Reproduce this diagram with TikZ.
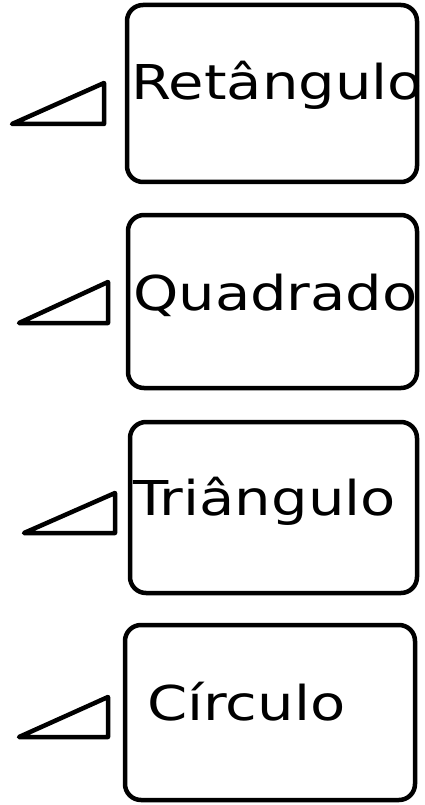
\documentclass[tikz,border=0pt]{standalone}
\usepackage{fontspec}
\newfontfamily\boxfont[FakeStretch=1.2]{DejaVu Sans}
\usetikzlibrary{positioning}

\begin{document}
\begin{tikzpicture}[
    x=1pt, y=-1pt,
    shapebox/.style={draw, line width=4.5pt, rounded corners=16pt, inner sep=0pt},
    boxtext/.style={font=\boxfont\fontsize{48}{48}\selectfont, anchor=base west, inner sep=0pt},
    wedge/.style={draw, line width=4.5pt, line join=round, line cap=round}
]
\useasboundingbox (0,0) rectangle (424,805);

\node[shapebox, minimum width=290pt, minimum height=177pt] (ret) at (272,93.5) {};
\node[shapebox, minimum width=289pt, minimum height=173pt] (quad) at (272.5,301.5) {};
\node[shapebox, minimum width=287pt, minimum height=171pt] (tri) at (273.5,507.5) {};
\node[shapebox, minimum width=290pt, minimum height=175pt] (circ) at (270,712.5) {};

\node[boxtext] (rettext) at (131,100) {Retângulo};
\node[boxtext] (quadtext) at (133,310) {Quadrado};
\node[boxtext] (tritext) at (133,515) {Triângulo};
\node[boxtext] (circtext) at (147,720) {Círculo};

\draw[wedge] (12,124) -- (104,83) -- (104,124) -- cycle;
\draw[wedge] (19,323) -- (108,282) -- (108,323) -- cycle;
\draw[wedge] (24,533) -- (115,493) -- (115,533) -- cycle;
\draw[wedge] (19,737) -- (108,697) -- (108,737) -- cycle;
\end{tikzpicture}
\end{document}
